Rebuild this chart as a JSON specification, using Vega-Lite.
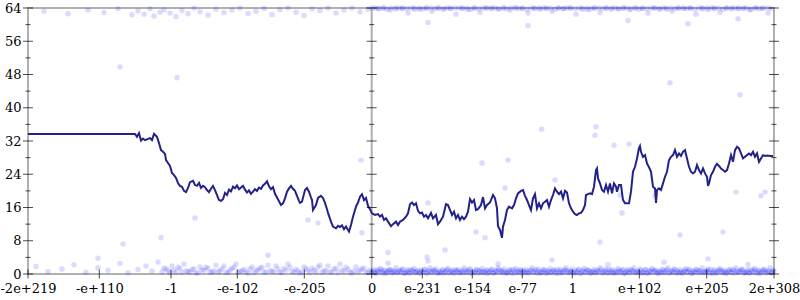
{
"$schema":"https://vega.github.io/schema/vega-lite/v6.json",
"width":746,"height":266,
"autosize":{"type":"none"},
"padding":{"left":28,"top":8,"right":26,"bottom":26},
"config":{"view":{"stroke":"#b0b0b0","strokeWidth":2},"font":"DejaVu Serif","axis":{"labelOverlap":false,"labelFlush":false,"labelBound":false}},
"datasets":{
"line":[
{"x":0,"y":33.7},{"x":53.5,"y":33.7},{"x":54.5,"y":33.0},{"x":55.5,"y":33.9},{"x":56.5,"y":32.1},{"x":57.5,"y":32.6},{"x":58.5,"y":32.2},{"x":60,"y":32.5},{"x":61,"y":32.7},{"x":62,"y":32.2},{"x":63,"y":33.7},{"x":64.5,"y":33.0},{"x":65.5,"y":31.5},{"x":66.5,"y":29.8},{"x":67.5,"y":29.4},{"x":68.5,"y":28.9},{"x":69,"y":27.4},{"x":70,"y":26.7},{"x":71,"y":26.0},{"x":72,"y":24.3},{"x":73,"y":23.8},{"x":74,"y":23.1},{"x":75,"y":21.9},{"x":76,"y":21.2},{"x":77,"y":21.0},{"x":78,"y":20.0},{"x":79,"y":19.7},{"x":80,"y":20.7},{"x":81,"y":22.1},{"x":82.5,"y":22.4},{"x":83.5,"y":21.4},{"x":84.5,"y":21.2},{"x":85.5,"y":21.9},{"x":86.5,"y":20.7},{"x":87.5,"y":21.2},{"x":88.5,"y":20.9},{"x":89.5,"y":20.2},{"x":90.5,"y":19.7},{"x":91.5,"y":20.5},{"x":92.5,"y":21.2},{"x":93.5,"y":20.2},{"x":94.5,"y":19.0},{"x":95.5,"y":17.8},{"x":96.5,"y":17.6},{"x":97.5,"y":18.0},{"x":98.5,"y":19.5},{"x":99.5,"y":19.0},{"x":100.5,"y":20.3},{"x":101.5,"y":19.9},{"x":102.5,"y":21.0},{"x":103.5,"y":20.6},{"x":104.5,"y":21.3},{"x":105.5,"y":20.4},{"x":106.5,"y":20.8},{"x":107.5,"y":21.2},{"x":108.5,"y":20.3},{"x":109.5,"y":19.6},{"x":110.5,"y":20.1},{"x":111.5,"y":19.3},{"x":112.5,"y":19.8},{"x":113.5,"y":20.4},{"x":114.5,"y":20.0},{"x":115.5,"y":20.8},{"x":116.5,"y":20.5},{"x":117.5,"y":21.3},{"x":118.5,"y":21.7},{"x":119.5,"y":22.3},{"x":120.5,"y":21.1},{"x":121.5,"y":20.4},{"x":122.5,"y":20.9},{"x":123.5,"y":19.3},{"x":124.5,"y":18.4},{"x":125.5,"y":17.5},{"x":126.5,"y":16.6},{"x":127.5,"y":17.0},{"x":128.5,"y":18.2},{"x":129.5,"y":19.8},{"x":130.5,"y":20.6},{"x":131.5,"y":21.2},{"x":132.5,"y":20.5},{"x":133.5,"y":20.0},{"x":134.5,"y":18.8},{"x":135.5,"y":17.6},{"x":136,"y":17.1},{"x":137,"y":17.4},{"x":138.5,"y":20.2},{"x":139.5,"y":20.7},{"x":140.5,"y":19.8},{"x":141.5,"y":18.4},{"x":142,"y":17.8},{"x":142.5,"y":15.4},{"x":143.5,"y":16.2},{"x":144,"y":16.6},{"x":145,"y":18.3},{"x":146.5,"y":18.8},{"x":147.5,"y":18.3},{"x":148.5,"y":17.1},{"x":149.5,"y":15.6},{"x":150,"y":14.7},{"x":151.5,"y":12.6},{"x":152.5,"y":11.4},{"x":154,"y":11.0},{"x":155,"y":11.6},{"x":156,"y":11.3},{"x":157,"y":11.7},{"x":158,"y":10.8},{"x":159,"y":11.4},{"x":159.5,"y":11.0},{"x":160.5,"y":10.2},{"x":161.5,"y":11.8},{"x":162.5,"y":13.8},{"x":164,"y":16.2},{"x":165,"y":17.2},{"x":166,"y":18.6},{"x":167,"y":19.2},{"x":168,"y":17.8},{"x":169,"y":18.3},{"x":170,"y":16.4},{"x":171,"y":15.6},{"x":172,"y":14.6},{"x":173.5,"y":14.2},{"x":175,"y":14.4},{"x":176,"y":13.8},{"x":177,"y":14.2},{"x":178,"y":13.0},{"x":179,"y":13.4},{"x":180,"y":12.6},{"x":181.5,"y":11.5},{"x":182.5,"y":12.0},{"x":184,"y":12.6},{"x":185,"y":11.8},{"x":186,"y":12.6},{"x":187.5,"y":13.0},{"x":189,"y":13.8},{"x":190,"y":14.6},{"x":191,"y":16.8},{"x":192,"y":17.2},{"x":193,"y":16.6},{"x":194,"y":17.0},{"x":195,"y":15.2},{"x":196,"y":14.6},{"x":197,"y":14.8},{"x":198,"y":13.8},{"x":199,"y":14.2},{"x":200,"y":13.4},{"x":201.5,"y":14.7},{"x":202.5,"y":13.4},{"x":204,"y":14.2},{"x":205,"y":12.0},{"x":206,"y":12.6},{"x":207.5,"y":13.8},{"x":209,"y":16.8},{"x":210,"y":16.6},{"x":211,"y":15.4},{"x":212,"y":14.2},{"x":213,"y":15.0},{"x":214,"y":13.4},{"x":215,"y":14.2},{"x":216,"y":13.0},{"x":217,"y":13.8},{"x":218,"y":13.2},{"x":219,"y":13.8},{"x":220,"y":15.0},{"x":221,"y":18.0},{"x":222,"y":17.2},{"x":223,"y":17.8},{"x":224,"y":15.4},{"x":225,"y":15.6},{"x":226.5,"y":16.6},{"x":227.5,"y":18.5},{"x":228.5,"y":15.8},{"x":229.5,"y":16.6},{"x":231,"y":17.2},{"x":232.5,"y":19.0},{"x":233.5,"y":18.2},{"x":234.5,"y":15.8},{"x":235,"y":11.5},{"x":236,"y":10.6},{"x":237,"y":8.7},{"x":237.5,"y":11.4},{"x":238.5,"y":13.0},{"x":239.5,"y":15.4},{"x":240.5,"y":16.2},{"x":242,"y":15.8},{"x":243,"y":16.6},{"x":244,"y":18.2},{"x":245,"y":19.4},{"x":246.5,"y":20.0},{"x":247.5,"y":20.2},{"x":248.5,"y":18.8},{"x":249.5,"y":17.8},{"x":250.5,"y":16.6},{"x":251.5,"y":15.4},{"x":252.5,"y":18.2},{"x":253.5,"y":19.2},{"x":254.5,"y":15.8},{"x":255.5,"y":17.0},{"x":256.5,"y":15.8},{"x":257.5,"y":17.0},{"x":258.5,"y":17.4},{"x":259.5,"y":17.8},{"x":260.5,"y":16.2},{"x":261.5,"y":17.8},{"x":262.5,"y":19.0},{"x":263.5,"y":20.6},{"x":264.5,"y":19.8},{"x":265.5,"y":19.2},{"x":266.5,"y":19.8},{"x":267.5,"y":18.2},{"x":268.5,"y":20.0},{"x":269.5,"y":19.6},{"x":270.5,"y":17.0},{"x":271.5,"y":15.8},{"x":272.5,"y":15.0},{"x":273.5,"y":14.4},{"x":274.5,"y":14.2},{"x":275.5,"y":14.6},{"x":276.5,"y":14.7},{"x":277.5,"y":15.4},{"x":278.5,"y":16.6},{"x":279,"y":19.0},{"x":280,"y":19.2},{"x":281,"y":19.4},{"x":282,"y":19.2},{"x":283,"y":21.0},{"x":284,"y":25.0},{"x":284.5,"y":25.4},{"x":285,"y":23.0},{"x":286,"y":21.8},{"x":287,"y":20.2},{"x":288,"y":19.8},{"x":289,"y":21.4},{"x":290,"y":19.8},{"x":291,"y":21.8},{"x":292,"y":19.4},{"x":293,"y":21.8},{"x":294,"y":21.0},{"x":294.5,"y":19.8},{"x":295.5,"y":21.4},{"x":296.5,"y":21.4},{"x":297.5,"y":17.8},{"x":298.5,"y":17.0},{"x":299.5,"y":17.0},{"x":300.5,"y":17.0},{"x":301.5,"y":19.8},{"x":302.5,"y":24.6},{"x":303.5,"y":25.8},{"x":304.5,"y":27.8},{"x":305.5,"y":30.3},{"x":306,"y":30.8},{"x":306.5,"y":29.4},{"x":307.5,"y":28.2},{"x":308.5,"y":28.6},{"x":309.5,"y":26.6},{"x":310.5,"y":25.7},{"x":311.5,"y":24.6},{"x":312.5,"y":21.0},{"x":313.5,"y":20.6},{"x":314,"y":17.1},{"x":314.5,"y":20.2},{"x":315.5,"y":20.6},{"x":316.5,"y":20.2},{"x":317.5,"y":21.8},{"x":318.5,"y":23.4},{"x":319.5,"y":24.6},{"x":320.5,"y":27.4},{"x":321.5,"y":28.2},{"x":322.5,"y":28.6},{"x":323.5,"y":29.8},{"x":324.5,"y":28.2},{"x":325.5,"y":29.0},{"x":326.5,"y":28.4},{"x":327.5,"y":29.4},{"x":328.5,"y":29.8},{"x":329.5,"y":27.8},{"x":330.5,"y":25.8},{"x":331.5,"y":24.6},{"x":332.5,"y":24.2},{"x":333.5,"y":24.6},{"x":334.5,"y":26.2},{"x":335.5,"y":25.0},{"x":336.5,"y":24.2},{"x":337.5,"y":25.4},{"x":338.5,"y":24.2},{"x":339.5,"y":23.4},{"x":340,"y":21.2},{"x":340.5,"y":21.8},{"x":341.5,"y":23.8},{"x":342.5,"y":24.6},{"x":343.5,"y":25.8},{"x":344.5,"y":26.5},{"x":345.5,"y":26.0},{"x":346.5,"y":25.4},{"x":347.5,"y":25.0},{"x":348.5,"y":24.6},{"x":349.5,"y":25.0},{"x":350.5,"y":26.6},{"x":351.5,"y":28.6},{"x":352.5,"y":27.0},{"x":353.5,"y":29.8},{"x":354.5,"y":30.6},{"x":355.5,"y":30.2},{"x":356.5,"y":29.0},{"x":357.5,"y":27.8},{"x":358.5,"y":28.2},{"x":359.5,"y":28.6},{"x":360.5,"y":29.0},{"x":361.5,"y":28.6},{"x":362.5,"y":29.4},{"x":363.5,"y":28.2},{"x":364.5,"y":29.0},{"x":365.5,"y":27.0},{"x":366.5,"y":27.8},{"x":367.5,"y":28.6},{"x":368.5,"y":28.4},{"x":369.5,"y":28.5},{"x":371,"y":28.4},{"x":372.5,"y":28.4}
],
"pts":[
{"x":4,"y":1.8},{"x":10,"y":0.6},{"x":17,"y":1.2},{"x":23,"y":2.2},{"x":29,"y":0.4},{"x":35,"y":1.5},{"x":40,"y":0.9},{"x":46,"y":2.6},{"x":50,"y":0.3},{"x":55,"y":1.1},{"x":59,"y":1.9},{"x":62,"y":0.7},{"x":65,"y":2.9},{"x":68,"y":1.4},
{"x":70,"y":0.8},{"x":72,"y":1.9},{"x":74,"y":0.4},{"x":76,"y":1.3},{"x":78,"y":2.4},{"x":80,"y":0.6},{"x":82,"y":1.1},{"x":84,"y":0.2},{"x":86,"y":1.7},{"x":88,"y":0.9},{"x":90,"y":1.4},{"x":92,"y":0.5},{"x":94,"y":2.1},{"x":96,"y":0.8},{"x":98,"y":1.9},{"x":100,"y":0.4},{"x":102,"y":1.3},{"x":104,"y":2.4},{"x":106,"y":0.6},{"x":108,"y":1.1},{"x":110,"y":0.2},{"x":112,"y":1.7},{"x":114,"y":0.9},{"x":116,"y":1.4},{"x":118,"y":0.5},{"x":120,"y":2.1},{"x":122,"y":0.8},{"x":124,"y":1.9},{"x":126,"y":0.4},{"x":128,"y":1.3},{"x":130,"y":2.4},{"x":132,"y":0.6},{"x":134,"y":1.1},{"x":136,"y":0.2},{"x":138,"y":1.7},{"x":140,"y":0.9},{"x":142,"y":1.4},{"x":144,"y":0.5},{"x":146,"y":2.1},{"x":148,"y":0.8},{"x":150,"y":1.9},{"x":152,"y":0.4},{"x":154,"y":1.3},{"x":156,"y":2.4},{"x":158,"y":0.6},{"x":160,"y":1.1},{"x":162,"y":0.2},{"x":164,"y":1.7},{"x":166,"y":0.9},{"x":168,"y":1.4},{"x":170,"y":0.5},
{"x":67,"y":0.5},{"x":69,"y":1.2},{"x":71,"y":0.3},{"x":73,"y":0.9},{"x":75,"y":1.6},{"x":77,"y":0.4},{"x":79,"y":0.7},
{"x":81,"y":0.5},{"x":83,"y":1.2},{"x":85,"y":0.3},{"x":87,"y":0.9},{"x":89,"y":1.6},{"x":91,"y":0.4},{"x":93,"y":0.7},
{"x":95,"y":0.5},{"x":97,"y":1.2},{"x":99,"y":0.3},{"x":101,"y":0.9},{"x":103,"y":1.6},{"x":105,"y":0.4},{"x":107,"y":0.7},
{"x":109,"y":0.5},{"x":111,"y":1.2},{"x":113,"y":0.3},{"x":115,"y":0.9},{"x":117,"y":1.6},{"x":119,"y":0.4},{"x":121,"y":0.7},
{"x":123,"y":0.5},{"x":125,"y":1.2},{"x":127,"y":0.3},{"x":129,"y":0.9},{"x":131,"y":1.6},{"x":133,"y":0.4},{"x":135,"y":0.7},
{"x":137,"y":0.5},{"x":139,"y":1.2},{"x":141,"y":0.3},{"x":143,"y":0.9},{"x":145,"y":1.6},{"x":147,"y":0.4},{"x":149,"y":0.7},
{"x":151,"y":0.5},{"x":153,"y":1.2},{"x":155,"y":0.3},{"x":157,"y":0.9},{"x":159,"y":1.6},{"x":161,"y":0.4},{"x":163,"y":0.7},
{"x":165,"y":0.5},{"x":167,"y":1.2},{"x":169,"y":0.3},{"x":171,"y":0.9},
{"x":172,"y":0.4},{"x":173,"y":1.0},{"x":174,"y":0.2},{"x":175,"y":0.7},{"x":176,"y":1.3},{"x":177,"y":0.5},{"x":178,"y":0.9},{"x":179,"y":0.1},{"x":180,"y":0.6},{"x":181,"y":1.1},{"x":182,"y":0.3},{"x":183,"y":0.8},{"x":184,"y":1.5},{"x":185,"y":0.4},{"x":186,"y":0.7},{"x":187,"y":1.2},{"x":188,"y":0.2},
{"x":189,"y":0.4},{"x":190,"y":1.0},{"x":191,"y":0.2},{"x":192,"y":0.7},{"x":193,"y":1.3},{"x":194,"y":0.5},{"x":195,"y":0.9},{"x":196,"y":0.1},{"x":197,"y":0.6},{"x":198,"y":1.1},{"x":199,"y":0.3},{"x":200,"y":0.8},{"x":201,"y":1.5},{"x":202,"y":0.4},{"x":203,"y":0.7},{"x":204,"y":1.2},{"x":205,"y":0.2},
{"x":206,"y":0.4},{"x":207,"y":1.0},{"x":208,"y":0.2},{"x":209,"y":0.7},{"x":210,"y":1.3},{"x":211,"y":0.5},{"x":212,"y":0.9},{"x":213,"y":0.1},{"x":214,"y":0.6},{"x":215,"y":1.1},{"x":216,"y":0.3},{"x":217,"y":0.8},{"x":218,"y":1.5},{"x":219,"y":0.4},{"x":220,"y":0.7},{"x":221,"y":1.2},{"x":222,"y":0.2},
{"x":223,"y":0.4},{"x":224,"y":1.0},{"x":225,"y":0.2},{"x":226,"y":0.7},{"x":227,"y":1.3},{"x":228,"y":0.5},{"x":229,"y":0.9},{"x":230,"y":0.1},{"x":231,"y":0.6},{"x":232,"y":1.1},{"x":233,"y":0.3},{"x":234,"y":0.8},{"x":235,"y":1.5},{"x":236,"y":0.4},{"x":237,"y":0.7},{"x":238,"y":1.2},{"x":239,"y":0.2},
{"x":240,"y":0.4},{"x":241,"y":1.0},{"x":242,"y":0.2},{"x":243,"y":0.7},{"x":244,"y":1.3},{"x":245,"y":0.5},{"x":246,"y":0.9},{"x":247,"y":0.1},{"x":248,"y":0.6},{"x":249,"y":1.1},{"x":250,"y":0.3},{"x":251,"y":0.8},{"x":252,"y":1.5},{"x":253,"y":0.4},{"x":254,"y":0.7},{"x":255,"y":1.2},{"x":256,"y":0.2},
{"x":257,"y":0.4},{"x":258,"y":1.0},{"x":259,"y":0.2},{"x":260,"y":0.7},{"x":261,"y":1.3},{"x":262,"y":0.5},{"x":263,"y":0.9},{"x":264,"y":0.1},{"x":265,"y":0.6},{"x":266,"y":1.1},{"x":267,"y":0.3},{"x":268,"y":0.8},{"x":269,"y":1.5},{"x":270,"y":0.4},{"x":271,"y":0.7},{"x":272,"y":1.2},{"x":273,"y":0.2},
{"x":274,"y":0.4},{"x":275,"y":1.0},{"x":276,"y":0.2},{"x":277,"y":0.7},{"x":278,"y":1.3},{"x":279,"y":0.5},{"x":280,"y":0.9},{"x":281,"y":0.1},{"x":282,"y":0.6},{"x":283,"y":1.1},{"x":284,"y":0.3},{"x":285,"y":0.8},{"x":286,"y":1.5},{"x":287,"y":0.4},{"x":288,"y":0.7},{"x":289,"y":1.2},{"x":290,"y":0.2},
{"x":291,"y":0.4},{"x":292,"y":1.0},{"x":293,"y":0.2},{"x":294,"y":0.7},{"x":295,"y":1.3},{"x":296,"y":0.5},{"x":297,"y":0.9},{"x":298,"y":0.1},{"x":299,"y":0.6},{"x":300,"y":1.1},{"x":301,"y":0.3},{"x":302,"y":0.8},{"x":303,"y":1.5},{"x":304,"y":0.4},{"x":305,"y":0.7},{"x":306,"y":1.2},{"x":307,"y":0.2},
{"x":308,"y":0.4},{"x":309,"y":1.0},{"x":310,"y":0.2},{"x":311,"y":0.7},{"x":312,"y":1.3},{"x":313,"y":0.5},{"x":314,"y":0.9},{"x":315,"y":0.1},{"x":316,"y":0.6},{"x":317,"y":1.1},{"x":318,"y":0.3},{"x":319,"y":0.8},{"x":320,"y":1.5},{"x":321,"y":0.4},{"x":322,"y":0.7},{"x":323,"y":1.2},{"x":324,"y":0.2},
{"x":325,"y":0.4},{"x":326,"y":1.0},{"x":327,"y":0.2},{"x":328,"y":0.7},{"x":329,"y":1.3},{"x":330,"y":0.5},{"x":331,"y":0.9},{"x":332,"y":0.1},{"x":333,"y":0.6},{"x":334,"y":1.1},{"x":335,"y":0.3},{"x":336,"y":0.8},{"x":337,"y":1.5},{"x":338,"y":0.4},{"x":339,"y":0.7},{"x":340,"y":1.2},{"x":341,"y":0.2},
{"x":342,"y":0.4},{"x":343,"y":1.0},{"x":344,"y":0.2},{"x":345,"y":0.7},{"x":346,"y":1.3},{"x":347,"y":0.5},{"x":348,"y":0.9},{"x":349,"y":0.1},{"x":350,"y":0.6},{"x":351,"y":1.1},{"x":352,"y":0.3},{"x":353,"y":0.8},{"x":354,"y":1.5},{"x":355,"y":0.4},{"x":356,"y":0.7},{"x":357,"y":1.2},{"x":358,"y":0.2},
{"x":359,"y":0.4},{"x":360,"y":1.0},{"x":361,"y":0.2},{"x":362,"y":0.7},{"x":363,"y":1.3},{"x":364,"y":0.5},{"x":365,"y":0.9},{"x":366,"y":0.1},{"x":367,"y":0.6},{"x":368,"y":1.1},{"x":369,"y":0.3},{"x":370,"y":0.8},{"x":371,"y":1.5},{"x":372,"y":0.4},{"x":373,"y":0.7},
{"x":172.5,"y":0.6},{"x":173.5,"y":0.3},{"x":174.5,"y":0.9},{"x":175.5,"y":0.5},{"x":176.5,"y":1.1},{"x":177.5,"y":0.2},{"x":178.5,"y":0.7},{"x":179.5,"y":0.4},{"x":180.5,"y":1.0},{"x":181.5,"y":0.8},{"x":182.5,"y":0.3},
{"x":183.5,"y":0.6},{"x":184.5,"y":0.3},{"x":185.5,"y":0.9},{"x":186.5,"y":0.5},{"x":187.5,"y":1.1},{"x":188.5,"y":0.2},{"x":189.5,"y":0.7},{"x":190.5,"y":0.4},{"x":191.5,"y":1.0},{"x":192.5,"y":0.8},{"x":193.5,"y":0.3},
{"x":194.5,"y":0.6},{"x":195.5,"y":0.3},{"x":196.5,"y":0.9},{"x":197.5,"y":0.5},{"x":198.5,"y":1.1},{"x":199.5,"y":0.2},{"x":200.5,"y":0.7},{"x":201.5,"y":0.4},{"x":202.5,"y":1.0},{"x":203.5,"y":0.8},{"x":204.5,"y":0.3},
{"x":205.5,"y":0.6},{"x":206.5,"y":0.3},{"x":207.5,"y":0.9},{"x":208.5,"y":0.5},{"x":209.5,"y":1.1},{"x":210.5,"y":0.2},{"x":211.5,"y":0.7},{"x":212.5,"y":0.4},{"x":213.5,"y":1.0},{"x":214.5,"y":0.8},{"x":215.5,"y":0.3},
{"x":216.5,"y":0.6},{"x":217.5,"y":0.3},{"x":218.5,"y":0.9},{"x":219.5,"y":0.5},{"x":220.5,"y":1.1},{"x":221.5,"y":0.2},{"x":222.5,"y":0.7},{"x":223.5,"y":0.4},{"x":224.5,"y":1.0},{"x":225.5,"y":0.8},{"x":226.5,"y":0.3},
{"x":227.5,"y":0.6},{"x":228.5,"y":0.3},{"x":229.5,"y":0.9},{"x":230.5,"y":0.5},{"x":231.5,"y":1.1},{"x":232.5,"y":0.2},{"x":233.5,"y":0.7},{"x":234.5,"y":0.4},{"x":235.5,"y":1.0},{"x":236.5,"y":0.8},{"x":237.5,"y":0.3},
{"x":238.5,"y":0.6},{"x":239.5,"y":0.3},{"x":240.5,"y":0.9},{"x":241.5,"y":0.5},{"x":242.5,"y":1.1},{"x":243.5,"y":0.2},{"x":244.5,"y":0.7},{"x":245.5,"y":0.4},{"x":246.5,"y":1.0},{"x":247.5,"y":0.8},{"x":248.5,"y":0.3},
{"x":249.5,"y":0.6},{"x":250.5,"y":0.3},{"x":251.5,"y":0.9},{"x":252.5,"y":0.5},{"x":253.5,"y":1.1},{"x":254.5,"y":0.2},{"x":255.5,"y":0.7},{"x":256.5,"y":0.4},{"x":257.5,"y":1.0},{"x":258.5,"y":0.8},{"x":259.5,"y":0.3},
{"x":260.5,"y":0.6},{"x":261.5,"y":0.3},{"x":262.5,"y":0.9},{"x":263.5,"y":0.5},{"x":264.5,"y":1.1},{"x":265.5,"y":0.2},{"x":266.5,"y":0.7},{"x":267.5,"y":0.4},{"x":268.5,"y":1.0},{"x":269.5,"y":0.8},{"x":270.5,"y":0.3},
{"x":271.5,"y":0.6},{"x":272.5,"y":0.3},{"x":273.5,"y":0.9},{"x":274.5,"y":0.5},{"x":275.5,"y":1.1},{"x":276.5,"y":0.2},{"x":277.5,"y":0.7},{"x":278.5,"y":0.4},{"x":279.5,"y":1.0},{"x":280.5,"y":0.8},{"x":281.5,"y":0.3},
{"x":282.5,"y":0.6},{"x":283.5,"y":0.3},{"x":284.5,"y":0.9},{"x":285.5,"y":0.5},{"x":286.5,"y":1.1},{"x":287.5,"y":0.2},{"x":288.5,"y":0.7},{"x":289.5,"y":0.4},{"x":290.5,"y":1.0},{"x":291.5,"y":0.8},{"x":292.5,"y":0.3},
{"x":293.5,"y":0.6},{"x":294.5,"y":0.3},{"x":295.5,"y":0.9},{"x":296.5,"y":0.5},{"x":297.5,"y":1.1},{"x":298.5,"y":0.2},{"x":299.5,"y":0.7},{"x":300.5,"y":0.4},{"x":301.5,"y":1.0},{"x":302.5,"y":0.8},{"x":303.5,"y":0.3},
{"x":304.5,"y":0.6},{"x":305.5,"y":0.3},{"x":306.5,"y":0.9},{"x":307.5,"y":0.5},{"x":308.5,"y":1.1},{"x":309.5,"y":0.2},{"x":310.5,"y":0.7},{"x":311.5,"y":0.4},{"x":312.5,"y":1.0},{"x":313.5,"y":0.8},{"x":314.5,"y":0.3},
{"x":315.5,"y":0.6},{"x":316.5,"y":0.3},{"x":317.5,"y":0.9},{"x":318.5,"y":0.5},{"x":319.5,"y":1.1},{"x":320.5,"y":0.2},{"x":321.5,"y":0.7},{"x":322.5,"y":0.4},{"x":323.5,"y":1.0},{"x":324.5,"y":0.8},{"x":325.5,"y":0.3},
{"x":326.5,"y":0.6},{"x":327.5,"y":0.3},{"x":328.5,"y":0.9},{"x":329.5,"y":0.5},{"x":330.5,"y":1.1},{"x":331.5,"y":0.2},{"x":332.5,"y":0.7},{"x":333.5,"y":0.4},{"x":334.5,"y":1.0},{"x":335.5,"y":0.8},{"x":336.5,"y":0.3},
{"x":337.5,"y":0.6},{"x":338.5,"y":0.3},{"x":339.5,"y":0.9},{"x":340.5,"y":0.5},{"x":341.5,"y":1.1},{"x":342.5,"y":0.2},{"x":343.5,"y":0.7},{"x":344.5,"y":0.4},{"x":345.5,"y":1.0},{"x":346.5,"y":0.8},{"x":347.5,"y":0.3},
{"x":348.5,"y":0.6},{"x":349.5,"y":0.3},{"x":350.5,"y":0.9},{"x":351.5,"y":0.5},{"x":352.5,"y":1.1},{"x":353.5,"y":0.2},{"x":354.5,"y":0.7},{"x":355.5,"y":0.4},{"x":356.5,"y":1.0},{"x":357.5,"y":0.8},{"x":358.5,"y":0.3},
{"x":359.5,"y":0.6},{"x":360.5,"y":0.3},{"x":361.5,"y":0.9},{"x":362.5,"y":0.5},{"x":363.5,"y":1.1},{"x":364.5,"y":0.2},{"x":365.5,"y":0.7},{"x":366.5,"y":0.4},{"x":367.5,"y":1.0},{"x":368.5,"y":0.8},{"x":369.5,"y":0.3},
{"x":370.5,"y":0.6},{"x":371.5,"y":0.3},{"x":372.5,"y":0.9},
{"x":180,"y":2.6},{"x":200,"y":3.1},{"x":235,"y":2.4},{"x":262,"y":3.4},{"x":290,"y":2.2},{"x":318,"y":2.8},{"x":340,"y":3.6},{"x":360,"y":2.3},
{"x":8,"y":63.2},{"x":20,"y":62.6},{"x":30,"y":63.5},{"x":38,"y":62.9},{"x":45,"y":63.8},{"x":52,"y":62.4},
{"x":55,"y":63.3},{"x":58,"y":62.5},{"x":61,"y":63.8},{"x":63,"y":62.1},{"x":66,"y":63.0},{"x":68,"y":63.6},{"x":71,"y":62.8},{"x":74,"y":61.9},{"x":77,"y":63.4},{"x":80,"y":62.6},{"x":83,"y":64},{"x":86,"y":63.1},{"x":90,"y":62.3},{"x":94,"y":63.7},{"x":98,"y":62.9},{"x":102,"y":63.5},{"x":106,"y":64},{"x":110,"y":62.7},{"x":114,"y":63.2},{"x":118,"y":63.9},{"x":122,"y":62.4},{"x":126,"y":63.6},{"x":130,"y":64},{"x":134,"y":63.0},{"x":138,"y":62.2},{"x":142,"y":63.8},{"x":146,"y":63.4},{"x":150,"y":64},{"x":154,"y":62.8},{"x":158,"y":63.5},{"x":162,"y":64},{"x":166,"y":63.1},{"x":170,"y":63.7},
{"x":172,"y":64},{"x":175,"y":63.8},{"x":178,"y":64},{"x":181,"y":63.5},{"x":184,"y":64},{"x":187,"y":63.9},{"x":190,"y":62.8},{"x":193,"y":64},{"x":196,"y":63.7},{"x":199,"y":64},{"x":202,"y":63.2},{"x":205,"y":64},{"x":208,"y":63.9},{"x":211,"y":64},{"x":214,"y":62.5},{"x":217,"y":64},{"x":220,"y":63.6},{"x":223,"y":64},{"x":226,"y":63.0},{"x":229,"y":64},
{"x":232,"y":64},{"x":235,"y":63.8},{"x":238,"y":64},{"x":241,"y":63.5},{"x":244,"y":64},{"x":247,"y":63.9},{"x":250,"y":62.8},{"x":253,"y":64},{"x":256,"y":63.7},{"x":259,"y":64},{"x":262,"y":63.2},{"x":265,"y":64},{"x":268,"y":63.9},{"x":271,"y":64},{"x":274,"y":62.5},{"x":277,"y":64},{"x":280,"y":63.6},{"x":283,"y":64},{"x":286,"y":63.0},{"x":289,"y":64},
{"x":292,"y":64},{"x":295,"y":63.8},{"x":298,"y":64},{"x":301,"y":63.5},{"x":304,"y":64},{"x":307,"y":63.9},{"x":310,"y":62.8},{"x":313,"y":64},{"x":316,"y":63.7},{"x":319,"y":64},{"x":322,"y":63.2},{"x":325,"y":64},{"x":328,"y":63.9},{"x":331,"y":64},{"x":334,"y":62.5},{"x":337,"y":64},{"x":340,"y":63.6},{"x":343,"y":64},{"x":346,"y":63.0},{"x":349,"y":64},
{"x":352,"y":64},{"x":355,"y":63.8},{"x":358,"y":64},{"x":361,"y":63.5},{"x":364,"y":64},{"x":367,"y":63.9},{"x":370,"y":62.8},
{"x":173.5,"y":64},{"x":175.5,"y":63.9},{"x":177.5,"y":64},{"x":179.5,"y":63.7},{"x":181.5,"y":64},{"x":183.5,"y":63.8},{"x":185.5,"y":64},
{"x":187.5,"y":64},{"x":189.5,"y":63.9},{"x":191.5,"y":64},{"x":193.5,"y":63.7},{"x":195.5,"y":64},{"x":197.5,"y":63.8},{"x":199.5,"y":64},
{"x":201.5,"y":64},{"x":203.5,"y":63.9},{"x":205.5,"y":64},{"x":207.5,"y":63.7},{"x":209.5,"y":64},{"x":211.5,"y":63.8},{"x":213.5,"y":64},
{"x":215.5,"y":64},{"x":217.5,"y":63.9},{"x":219.5,"y":64},{"x":221.5,"y":63.7},{"x":223.5,"y":64},{"x":225.5,"y":63.8},{"x":227.5,"y":64},
{"x":229.5,"y":64},{"x":231.5,"y":63.9},{"x":233.5,"y":64},{"x":235.5,"y":63.7},{"x":237.5,"y":64},{"x":239.5,"y":63.8},{"x":241.5,"y":64},
{"x":243.5,"y":64},{"x":245.5,"y":63.9},{"x":247.5,"y":64},{"x":249.5,"y":63.7},{"x":251.5,"y":64},{"x":253.5,"y":63.8},{"x":255.5,"y":64},
{"x":257.5,"y":64},{"x":259.5,"y":63.9},{"x":261.5,"y":64},{"x":263.5,"y":63.7},{"x":265.5,"y":64},{"x":267.5,"y":63.8},{"x":269.5,"y":64},
{"x":271.5,"y":64},{"x":273.5,"y":63.9},{"x":275.5,"y":64},{"x":277.5,"y":63.7},{"x":279.5,"y":64},{"x":281.5,"y":63.8},{"x":283.5,"y":64},
{"x":285.5,"y":64},{"x":287.5,"y":63.9},{"x":289.5,"y":64},{"x":291.5,"y":63.7},{"x":293.5,"y":64},{"x":295.5,"y":63.8},{"x":297.5,"y":64},
{"x":299.5,"y":64},{"x":301.5,"y":63.9},{"x":303.5,"y":64},{"x":305.5,"y":63.7},{"x":307.5,"y":64},{"x":309.5,"y":63.8},{"x":311.5,"y":64},
{"x":313.5,"y":64},{"x":315.5,"y":63.9},{"x":317.5,"y":64},{"x":319.5,"y":63.7},{"x":321.5,"y":64},{"x":323.5,"y":63.8},{"x":325.5,"y":64},
{"x":327.5,"y":64},{"x":329.5,"y":63.9},{"x":331.5,"y":64},{"x":333.5,"y":63.7},{"x":335.5,"y":64},{"x":337.5,"y":63.8},{"x":339.5,"y":64},
{"x":341.5,"y":64},{"x":343.5,"y":63.9},{"x":345.5,"y":64},{"x":347.5,"y":63.7},{"x":349.5,"y":64},{"x":351.5,"y":63.8},{"x":353.5,"y":64},
{"x":355.5,"y":64},{"x":357.5,"y":63.9},{"x":359.5,"y":64},{"x":361.5,"y":63.7},{"x":363.5,"y":64},{"x":365.5,"y":63.8},{"x":367.5,"y":64},
{"x":369.5,"y":64},{"x":371.5,"y":63.9},
{"x":200,"y":60.5},{"x":250,"y":59.8},{"x":300,"y":61.0},{"x":330,"y":60.2},{"x":355,"y":61.4},
{"x":46,"y":49.8},{"x":74.5,"y":47.2},{"x":47.5,"y":7.2},{"x":66.5,"y":8.7},{"x":83.5,"y":13.5},{"x":166.5,"y":27.4},{"x":140,"y":13.0},{"x":145,"y":12.3},{"x":167,"y":9.9},{"x":200,"y":17.1},{"x":208.5,"y":5.8},{"x":199.5,"y":4.1},{"x":256.8,"y":34.8},{"x":284,"y":35.4},{"x":283.5,"y":33.4},{"x":293,"y":31.0},{"x":300.5,"y":31.3},{"x":227,"y":26.7},{"x":240,"y":27.4},{"x":238.5,"y":20.7},{"x":263.5,"y":22.6},{"x":296,"y":19.0},{"x":313.5,"y":18.8},{"x":354,"y":19.7},{"x":368.5,"y":19.7},{"x":326,"y":9.4},{"x":347.5,"y":10.1},{"x":224,"y":10.1},{"x":228.5,"y":8.7},{"x":297,"y":14.7},{"x":286,"y":7.7},{"x":321,"y":46.0},{"x":356,"y":43.1},{"x":366.5,"y":18.8},{"x":180,"y":5.2},{"x":120,"y":4.5},{"x":35,"y":3.8}
],
"xt":[{"x":0},{"x":35.65},{"x":71.5},{"x":104.65},{"x":138.15},{"x":171.85},{"x":197.15},{"x":222.15},{"x":247.15},{"x":272.15},{"x":305.65},{"x":339.35},{"x":373}],
"yt":[{"y":0},{"y":4},{"y":8},{"y":12},{"y":16},{"y":20},{"y":24},{"y":28},{"y":32},{"y":36},{"y":40},{"y":44},{"y":48},{"y":52},{"y":56},{"y":60},{"y":64}]
},
"layer":[
{"data":{"values":[{}]},"mark":{"type":"rule","color":"#b0b0b0","strokeWidth":2},
 "encoding":{"x":{"datum":171.85,"type":"quantitative"},"y":{"datum":0,"type":"quantitative"},"y2":{"datum":64}}},
{"data":{"name":"pts"},"mark":{"type":"circle","size":30,"color":"#0000ff","opacity":0.14},
 "encoding":{
  "x":{"field":"x","type":"quantitative","scale":{"domain":[0,373],"nice":false,"zero":false},
   "axis":{"title":null,"values":[0,35.65,71.5,104.65,138.15,171.85,197.15,222.15,247.15,272.15,305.65,339.35,373],"tickCount":40,
    "labelExpr":"['-2e+219','-e+110','-1','-e-102','-e-205','0','e-231','e-154','e-77','1','e+102','e+205','2e+308'][indexof([0,35.65,71.5,104.65,138.15,171.85,197.15,222.15,247.15,272.15,305.65,339.35,373], datum.value)]",
    "ticks":false,"domain":false,"grid":false,"labelFlush":false,"labelOverlap":false,"labelPadding":8,"labelFontSize":13,"labelFont":"DejaVu Serif","labelColor":"#000000"}},
  "y":{"field":"y","type":"quantitative","scale":{"domain":[0,64],"nice":false,"zero":false},
   "axis":{"title":null,"values":[0,8,16,24,32,40,48,56,64],"tickCount":40,"ticks":false,"domain":false,"grid":false,"labelFlush":false,"labelOverlap":false,"labelPadding":7,"labelFontSize":13,"labelFont":"DejaVu Serif","labelColor":"#000000"}}}},
{"data":{"name":"line"},"mark":{"type":"line","color":"#222288","strokeWidth":2},
 "encoding":{"x":{"field":"x","type":"quantitative"},"y":{"field":"y","type":"quantitative"}}},
{"data":{"name":"yt"},"transform":[{"filter":"datum.y % 8 == 0"}],"mark":{"type":"tick","orient":"horizontal","size":10,"thickness":1,"color":"#000000"},
 "encoding":{"x":{"datum":0,"type":"quantitative"},"y":{"field":"y","type":"quantitative"}}},
{"data":{"name":"yt"},"transform":[{"filter":"datum.y % 8 != 0"}],"mark":{"type":"tick","orient":"horizontal","size":5,"thickness":1,"color":"#000000"},
 "encoding":{"x":{"datum":0,"type":"quantitative"},"y":{"field":"y","type":"quantitative"}}},
{"data":{"name":"yt"},"transform":[{"filter":"datum.y % 8 == 0"}],"mark":{"type":"tick","orient":"horizontal","size":10,"thickness":1,"color":"#000000"},
 "encoding":{"x":{"datum":171.85,"type":"quantitative"},"y":{"field":"y","type":"quantitative"}}},
{"data":{"name":"yt"},"transform":[{"filter":"datum.y % 8 != 0"}],"mark":{"type":"tick","orient":"horizontal","size":5,"thickness":1,"color":"#000000"},
 "encoding":{"x":{"datum":171.85,"type":"quantitative"},"y":{"field":"y","type":"quantitative"}}},
{"data":{"name":"yt"},"transform":[{"filter":"datum.y % 8 == 0"}],"mark":{"type":"tick","orient":"horizontal","size":10,"thickness":1,"color":"#000000"},
 "encoding":{"x":{"datum":373,"type":"quantitative"},"y":{"field":"y","type":"quantitative"}}},
{"data":{"name":"yt"},"transform":[{"filter":"datum.y % 8 != 0"}],"mark":{"type":"tick","orient":"horizontal","size":5,"thickness":1,"color":"#000000"},
 "encoding":{"x":{"datum":373,"type":"quantitative"},"y":{"field":"y","type":"quantitative"}}},
{"data":{"name":"xt"},"mark":{"type":"tick","orient":"vertical","size":9,"thickness":1,"color":"#000000"},
 "encoding":{"x":{"field":"x","type":"quantitative"},"y":{"datum":0,"type":"quantitative"}}}
]
}
